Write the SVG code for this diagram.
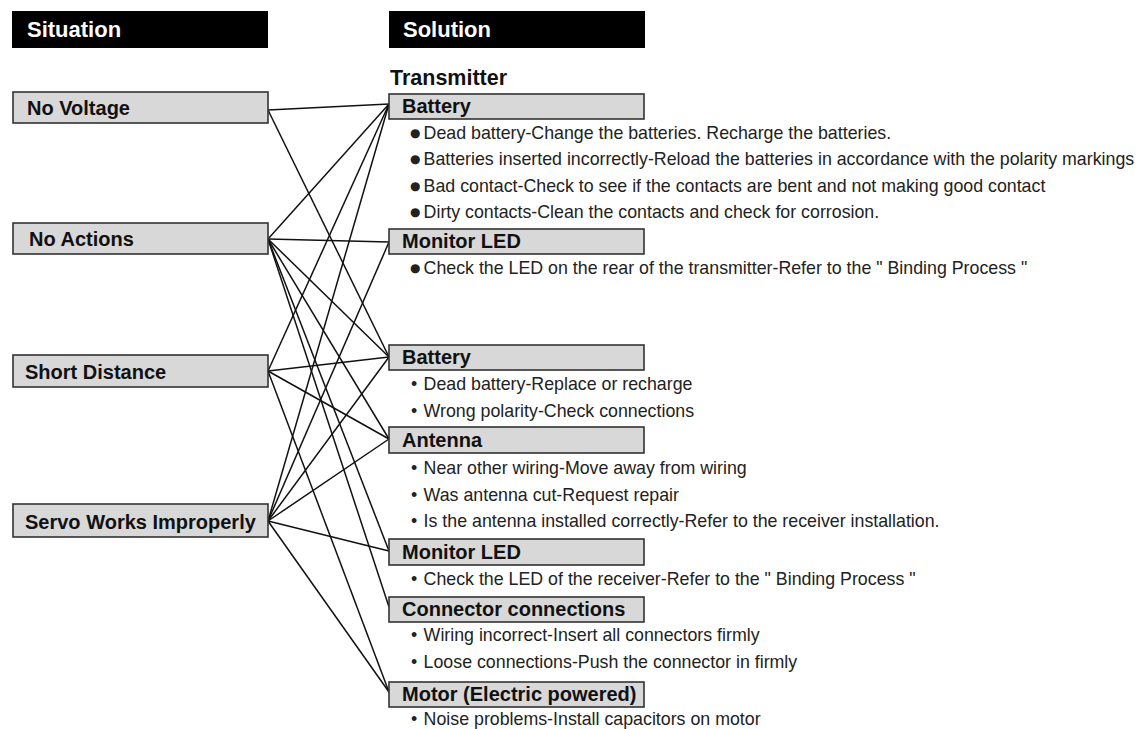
<svg xmlns="http://www.w3.org/2000/svg" width="1140" height="729" viewBox="0 0 1140 729">
<style>
.hdr{fill:#000}
.hdrt{font-family:"Liberation Sans",Arial,sans-serif;font-weight:bold;font-size:22px;fill:#fff}
.box{fill:#d8d8d8;stroke:#333;stroke-width:1.6}
.lt{font-family:"Liberation Sans",Arial,sans-serif;font-weight:bold;font-size:20px;fill:#111}
.rt{font-family:"Liberation Sans",Arial,sans-serif;font-weight:bold;font-size:20px;fill:#111}
.sec{font-family:"Liberation Sans",Arial,sans-serif;font-weight:bold;font-size:21.5px;fill:#111}
.bt{font-family:"Liberation Sans",Arial,sans-serif;font-size:17.8px;fill:#222}
.bb{font-family:"DejaVu Sans",sans-serif;font-size:12px}
.conn line{stroke:#111;stroke-width:1.5}
</style>
<rect x="0" y="0" width="1140" height="729" fill="#fff"/>
<g id="header-situation"><rect class="hdr" x="12" y="11" width="256" height="37"/><text class="hdrt" x="27" y="37">Situation</text></g>
<g id="header-solution"><rect class="hdr" x="389" y="11" width="256" height="37"/><text class="hdrt" x="403" y="37">Solution</text></g>
<text class="sec" x="390" y="85">Transmitter</text>

<g id="connectors" class="conn">
<line x1="268" y1="110" x2="389" y2="104"/>
<line x1="268" y1="110" x2="389" y2="357"/>
<line x1="268" y1="239" x2="389" y2="104"/>
<line x1="268" y1="239" x2="389" y2="242"/>
<line x1="268" y1="239" x2="389" y2="357"/>
<line x1="268" y1="239" x2="389" y2="439"/>
<line x1="268" y1="239" x2="389" y2="551"/>
<line x1="268" y1="239" x2="389" y2="607"/>
<line x1="268" y1="371" x2="389" y2="104"/>
<line x1="268" y1="371" x2="389" y2="357"/>
<line x1="268" y1="371" x2="389" y2="439"/>
<line x1="268" y1="371" x2="389" y2="692"/>
<line x1="268" y1="521" x2="389" y2="104"/>
<line x1="268" y1="521" x2="389" y2="242"/>
<line x1="268" y1="521" x2="389" y2="357"/>
<line x1="268" y1="521" x2="389" y2="439"/>
<line x1="268" y1="521" x2="389" y2="551"/>
<line x1="268" y1="521" x2="389" y2="692"/>
</g>

<g id="sit-no-voltage"><rect class="box" x="13" y="92" width="255" height="31"/><text class="lt" x="27" y="114.5">No Voltage</text></g>
<g id="sit-no-actions"><rect class="box" x="13" y="223" width="255" height="31"/><text class="lt" x="29" y="245.5">No Actions</text></g>
<g id="sit-short-distance"><rect class="box" x="13" y="355" width="255" height="32"/><text class="lt" x="25" y="379">Short Distance</text></g>
<g id="sit-servo"><rect class="box" x="13" y="504" width="255" height="33"/><text class="lt" x="25" y="528.5">Servo Works Improperly</text></g>

<g id="tx-battery"><rect class="box" x="389" y="94" width="255" height="25"/><text class="rt" x="402" y="113">Battery</text>
<text class="bt" y="139"><tspan class="bb" x="410" dy="-2">●</tspan><tspan x="423.6" dy="2">Dead battery-Change the batteries. Recharge the batteries.</tspan></text>
<text class="bt" y="165"><tspan class="bb" x="410" dy="-2">●</tspan><tspan x="423.6" dy="2">Batteries inserted incorrectly-Reload the batteries in accordance with the polarity markings</tspan></text>
<text class="bt" y="192"><tspan class="bb" x="410" dy="-2">●</tspan><tspan x="423.6" dy="2">Bad contact-Check to see if the contacts are bent and not making good contact</tspan></text>
<text class="bt" y="218"><tspan class="bb" x="410" dy="-2">●</tspan><tspan x="423.6" dy="2">Dirty contacts-Clean the contacts and check for corrosion.</tspan></text>
</g>
<g id="tx-monitor-led"><rect class="box" x="389" y="229" width="255" height="25"/><text class="rt" x="402" y="248">Monitor LED</text>
<text class="bt" y="274"><tspan class="bb" x="410" dy="-2">●</tspan><tspan x="423.6" dy="2">Check the LED on the rear of the transmitter-Refer to the " Binding Process "</tspan></text>
</g>
<g id="rx-battery"><rect class="box" x="389" y="345" width="255" height="25"/><text class="rt" x="402" y="364">Battery</text>
<text class="bt" y="390"><tspan x="411">•</tspan><tspan x="423.6">Dead battery-Replace or recharge</tspan></text>
<text class="bt" y="417"><tspan x="411">•</tspan><tspan x="423.6">Wrong polarity-Check connections</tspan></text>
</g>
<g id="rx-antenna"><rect class="box" x="389" y="427" width="255" height="26"/><text class="rt" x="402" y="447">Antenna</text>
<text class="bt" y="474"><tspan x="411">•</tspan><tspan x="423.6">Near other wiring-Move away from wiring</tspan></text>
<text class="bt" y="501"><tspan x="411">•</tspan><tspan x="423.6">Was antenna cut-Request repair</tspan></text>
<text class="bt" y="527"><tspan x="411">•</tspan><tspan x="423.6">Is the antenna installed correctly-Refer to the receiver installation.</tspan></text>
</g>
<g id="rx-monitor-led"><rect class="box" x="389" y="539" width="255" height="26"/><text class="rt" x="402" y="559">Monitor LED</text>
<text class="bt" y="585"><tspan x="411">•</tspan><tspan x="423.6">Check the LED of the receiver-Refer to the " Binding Process "</tspan></text>
</g>
<g id="rx-connector"><rect class="box" x="389" y="597" width="255" height="25"/><text class="rt" x="402" y="616">Connector connections</text>
<text class="bt" y="641"><tspan x="411">•</tspan><tspan x="423.6">Wiring incorrect-Insert all connectors firmly</tspan></text>
<text class="bt" y="668"><tspan x="411">•</tspan><tspan x="423.6">Loose connections-Push the connector in firmly</tspan></text>
</g>
<g id="rx-motor"><rect class="box" x="389" y="682" width="255" height="25"/><text class="rt" x="402" y="701">Motor (Electric powered)</text>
<text class="bt" y="725"><tspan x="411">•</tspan><tspan x="423.6">Noise problems-Install capacitors on motor</tspan></text>
</g>
</svg>
